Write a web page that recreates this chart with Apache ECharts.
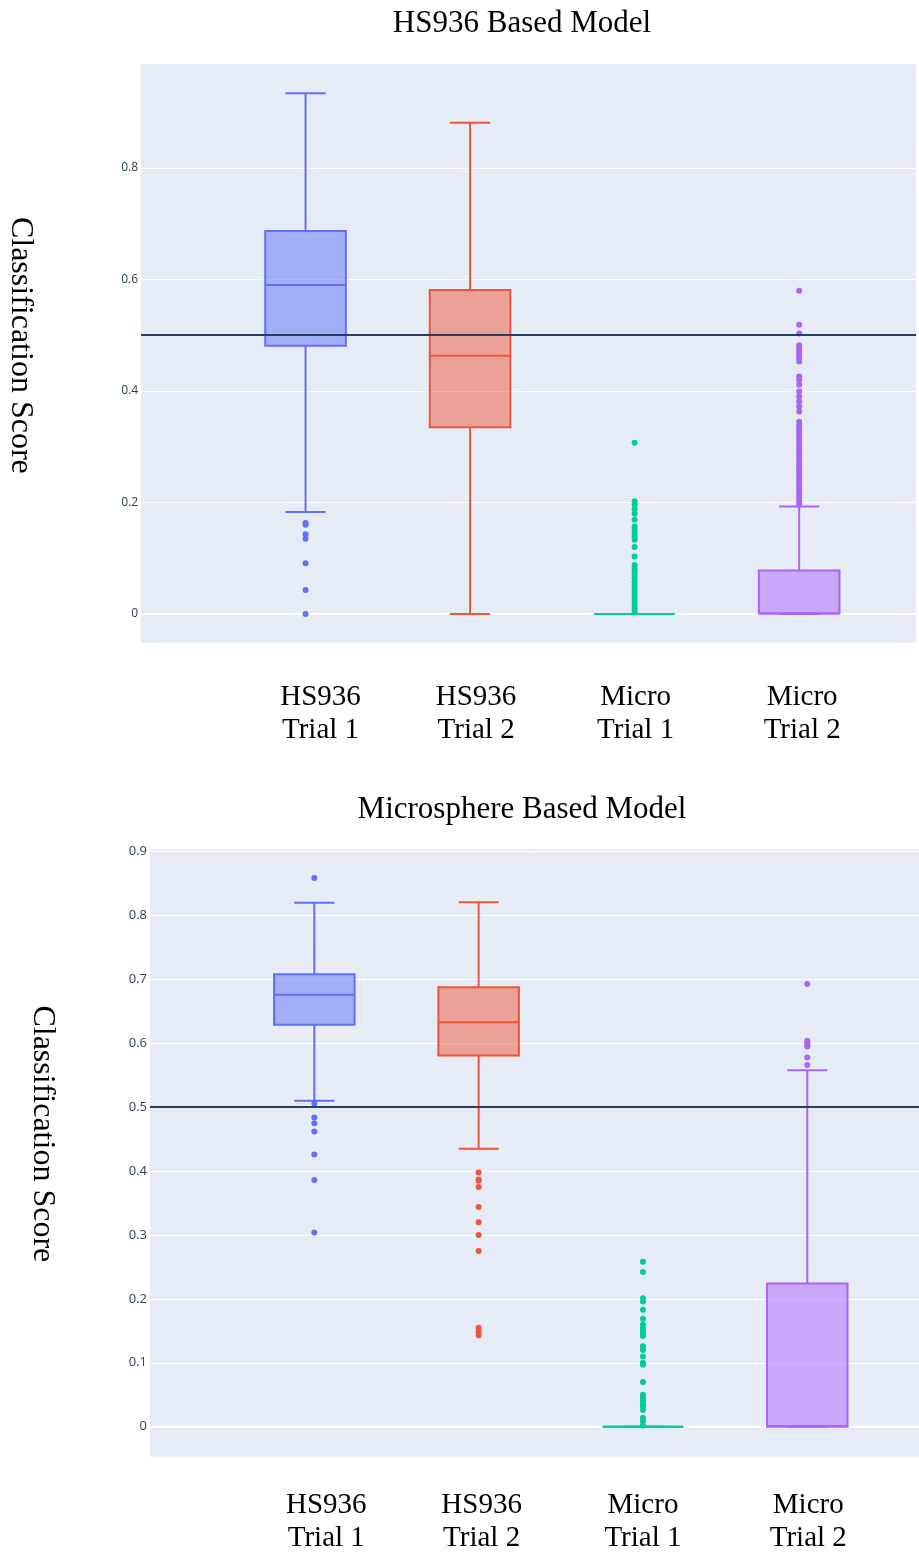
<!DOCTYPE html>
<html>
<head>
<meta charset="utf-8">
<script src="https://cdn.jsdelivr.net/npm/echarts@6/dist/echarts.min.js"></script>
<style>
  html, body { margin: 0; padding: 0; background: #fff; }
  #chart { width: 919px; height: 1560px; }
</style>
</head>
<body>
<div id="chart"></div>
<script>
// ---------------- DATA ----------------
const CATEGORIES = ['HS936\nTrial 1', 'HS936\nTrial 2', 'Micro\nTrial 1', 'Micro\nTrial 2'];
const COLORS = ['#636efa', '#EF553B', '#00cc96', '#ab63fa'];
const TITLE_TOP = 'HS936 Based Model';
const TITLE_BOTTOM = 'Microsphere Based Model';
const Y_NAME = 'Classification Score';
const Y_TICKS_TOP = [0, 0.2, 0.4, 0.6, 0.8];
const Y_TICKS_BOTTOM = [0, 0.1, 0.2, 0.3, 0.4, 0.5, 0.6, 0.7, 0.8, 0.9];
const THRESHOLD = 0.5;

// box stats: [lower whisker, Q1, median, Q3, upper whisker]
const HS_MODEL_BOX = [
  [0.183, 0.481, 0.590, 0.687, 0.934],
  [0.000, 0.335, 0.463, 0.581, 0.881],
  [0.000, 0.000, 0.000, 0.000, 0.000],
  [0.000, 0.001, 0.001, 0.078, 0.193]
];
const HS_MODEL_OUTLIERS = [
  [0.163, 0.160, 0.143, 0.135, 0.091, 0.043, 0.000],
  [],
  [0.307, 0.202, 0.196, 0.188, 0.180, 0.169, 0.157, 0.151, 0.145, 0.139, 0.133, 0.120, 0.103,
   0.088, 0.082, 0.076, 0.070, 0.064, 0.058, 0.052, 0.046, 0.040, 0.034, 0.028, 0.022, 0.016, 0.010, 0.004],
  [0.580, 0.519, 0.503, 0.482, 0.476, 0.470, 0.465, 0.459, 0.453, 0.426, 0.420, 0.411,
   0.399, 0.390, 0.381, 0.372, 0.363, 0.345, 0.339, 0.333, 0.327, 0.321, 0.315, 0.309, 0.303,
   0.297, 0.291, 0.285, 0.279, 0.273, 0.267, 0.261, 0.255, 0.249, 0.243, 0.237, 0.231, 0.225,
   0.219, 0.213, 0.207, 0.201, 0.196]
];

const MICRO_MODEL_BOX = [
  [0.510, 0.629, 0.676, 0.708, 0.820],
  [0.435, 0.581, 0.633, 0.688, 0.821],
  [0.000, 0.000, 0.000, 0.000, 0.000],
  [0.000, 0.000, 0.001, 0.224, 0.558]
];
const MICRO_MODEL_OUTLIERS = [
  [0.859, 0.506, 0.484, 0.475, 0.462, 0.426, 0.386, 0.304],
  [0.398, 0.387, 0.385, 0.375, 0.344, 0.320, 0.300, 0.275, 0.155, 0.149, 0.143],
  [0.258, 0.242, 0.201, 0.196, 0.183, 0.169, 0.160, 0.155, 0.150, 0.146, 0.142, 0.126, 0.120,
   0.110, 0.100, 0.097, 0.070, 0.050, 0.045, 0.040, 0.035, 0.032, 0.026, 0.014, 0.009, 0.002],
  [0.693, 0.604, 0.601, 0.599, 0.595, 0.578, 0.566]
];

// ---------------- STYLE ----------------
const SERIF = "'Liberation Serif', 'Times New Roman', serif";
const SANS = "'Open Sans', 'DejaVu Sans', sans-serif";
const TICK_COLOR = '#2a3f5f';
const BOX_HALF = 0.245;
const CAP_HALF = 0.122;
// horizontal nudges of the category labels (px of left padding), as in the reference
const LABEL_PAD_TOP = [30, 12, 2, 6];
const LABEL_PAD_BOTTOM = [24, 6, 0, 2];

function rgba(hex, a) {
  const n = parseInt(hex.slice(1), 16);
  return 'rgba(' + ((n >> 16) & 255) + ',' + ((n >> 8) & 255) + ',' + (n & 255) + ',' + a + ')';
}

function renderBox(params, api) {
  const x = api.value(0);
  const mn = api.value(1), q1 = api.value(2), md = api.value(3), q3 = api.value(4), mx = api.value(5);
  const color = COLORS[params.dataIndex];
  const halfW = api.size([BOX_HALF, 0])[0];
  const capW = api.size([CAP_HALF, 0])[0];
  const pMin = api.coord([x, mn]), pQ1 = api.coord([x, q1]), pMd = api.coord([x, md]);
  const pQ3 = api.coord([x, q3]), pMax = api.coord([x, mx]);
  const cx = pMd[0];
  const stroke = { stroke: color, lineWidth: 2, fill: null };
  return {
    type: 'group',
    children: [
      { type: 'line', shape: { x1: cx, y1: pQ3[1], x2: cx, y2: pMax[1] }, style: stroke },
      { type: 'line', shape: { x1: cx, y1: pMin[1], x2: cx, y2: pQ1[1] }, style: stroke },
      { type: 'line', shape: { x1: cx - capW, y1: pMax[1], x2: cx + capW, y2: pMax[1] }, style: stroke },
      { type: 'line', shape: { x1: cx - capW, y1: pMin[1], x2: cx + capW, y2: pMin[1] }, style: stroke },
      { type: 'rect', shape: { x: cx - halfW, y: pQ3[1], width: 2 * halfW, height: pQ1[1] - pQ3[1] },
        style: { fill: rgba(color, 0.5), stroke: color, lineWidth: 2 } },
      { type: 'line', shape: { x1: cx - halfW, y1: pMd[1], x2: cx + halfW, y2: pMd[1] }, style: stroke }
    ]
  };
}

function boxSeries(boxes, idx) {
  return {
    type: 'custom',
    xAxisIndex: idx, yAxisIndex: idx,
    renderItem: renderBox,
    encode: { x: 0, y: [1, 2, 3, 4, 5] },
    data: boxes.map((b, i) => [i].concat(b)),
    z: 3,
    silent: true,
    markLine: {
      silent: true, symbol: 'none', z: 1,
      label: { show: false },
      lineStyle: { color: '#ffffff', width: 2, type: 'solid' },
      data: [{ yAxis: 0 }]
    }
  };
}

function outlierSeries(outliers, idx) {
  const data = [];
  outliers.forEach((arr, i) => arr.forEach(v => data.push([i, v])));
  return {
    type: 'scatter',
    xAxisIndex: idx, yAxisIndex: idx,
    symbolSize: 6,
    data: data,
    z: 4,
    silent: true,
    itemStyle: { color: p => COLORS[p.data[0]], opacity: 1 },
    markLine: {
      silent: true, symbol: 'none', z: 10,
      label: { show: false },
      lineStyle: { color: '#2a3f5f', width: 2, type: 'solid' },
      data: [{ yAxis: THRESHOLD }]
    }
  };
}

function xAxisCfg(idx, max, margin, pads) {
  const rich = {};
  pads.forEach((p, i) => {
    rich['c' + i] = { fontFamily: SERIF, fontSize: 29, lineHeight: 33, color: '#000', padding: [0, 0, 0, p] };
  });
  return {
    type: 'value', gridIndex: idx, min: -1, max: max, interval: 1,
    axisLine: { show: false }, axisTick: { show: false }, splitLine: { show: false },
    axisLabel: {
      margin: margin,
      fontFamily: SERIF, fontSize: 29, lineHeight: 33, color: '#000',
      rich: rich,
      formatter: v => {
        if (!(Number.isInteger(v) && v >= 0 && v < CATEGORIES.length)) return '';
        return CATEGORIES[v].split('\n').map(s => '{c' + v + '|' + s + '}').join('\n');
      }
    }
  };
}

function yAxisCfg(idx, min, max, ticks, fontSize, nameGap, namePad) {
  return {
    type: 'value', gridIndex: idx, min: min, max: max,
    name: Y_NAME, nameLocation: 'middle', nameRotate: -90, nameGap: nameGap,
    nameTextStyle: { fontFamily: SERIF, fontSize: 32, color: '#000', padding: [0, namePad, 0, 0] },
    axisLine: { show: false },
    axisTick: { show: false, customValues: ticks },
    axisLabel: {
      customValues: ticks, margin: 3,
      fontFamily: SANS, fontSize: fontSize, color: TICK_COLOR,
      formatter: v => String(+v.toFixed(2))
    },
    splitLine: { show: true, lineStyle: { color: '#ffffff', width: 1 } }
  };
}

const chart = echarts.init(document.getElementById('chart'), null, { renderer: 'canvas' });
chart.setOption({
  backgroundColor: '#ffffff',
  animation: false,
  title: [
    { text: TITLE_TOP, left: 517, top: 3, textAlign: 'center',
      textStyle: { fontFamily: SERIF, fontSize: 31, fontWeight: 'normal', color: '#000' } },
    { text: TITLE_BOTTOM, left: 517, top: 789, textAlign: 'center',
      textStyle: { fontFamily: SERIF, fontSize: 31, fontWeight: 'normal', color: '#000' } }
  ],
  grid: [
    { left: 141, top: 64, width: 775, height: 578.7, show: true, backgroundColor: '#E5ECF6', borderWidth: 0,
      outerBoundsMode: 'none', containLabel: false },
    { left: 150, top: 849, width: 769, height: 607.7, show: true, backgroundColor: '#E5ECF6', borderWidth: 0,
      outerBoundsMode: 'none', containLabel: false }
  ],
  xAxis: [xAxisCfg(0, 3.71, 38, LABEL_PAD_TOP), xAxisCfg(1, 3.68, 32, LABEL_PAD_BOTTOM)],
  yAxis: [
    yAxisCfg(0, -0.0515, 0.9865, Y_TICKS_TOP, 12, 105, 16),
    yAxisCfg(1, -0.047, 0.9042, Y_TICKS_BOTTOM, 13, 92, 38)
  ],
  series: [
    boxSeries(HS_MODEL_BOX, 0), outlierSeries(HS_MODEL_OUTLIERS, 0),
    boxSeries(MICRO_MODEL_BOX, 1), outlierSeries(MICRO_MODEL_OUTLIERS, 1)
  ]
});
</script>
</body>
</html>
